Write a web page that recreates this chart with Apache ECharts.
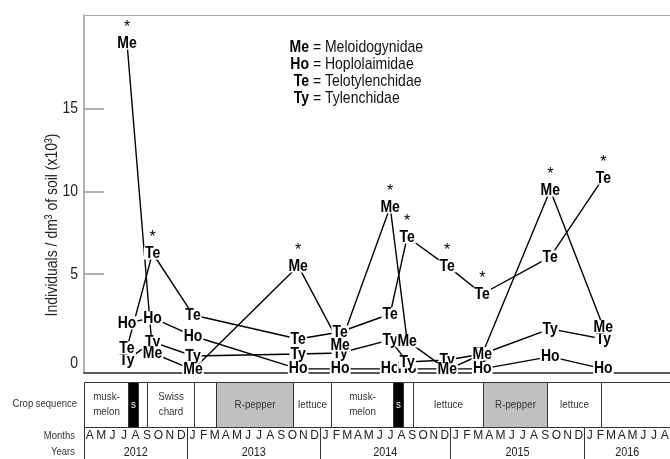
<!DOCTYPE html>
<html>
<head>
<meta charset="utf-8">
<script src="https://cdn.jsdelivr.net/npm/echarts@6.0.0/dist/echarts.min.js"></script>
<style>html,body{margin:0;padding:0;background:#fff;}#chart{width:670px;height:459px;}</style>
</head>
<body>
<div id="chart"></div>
<script>
// ---------------- data ----------------
// x = months since 1 April 2012
const sampleMonths = [3.89, 6.2, 9.86, 19.37, 23.17, 27.69, 29.23, 32.85, 36.02, 42.17, 46.97];
const familyCodes = ['Me', 'Ho', 'Te', 'Ty'];
const familyNames = ['Meloidogynidae', 'Hoplolaimidae', 'Telotylenchidae', 'Tylenchidae'];
const meValues = [18.98, 0.22, -0.80, 5.49, 0.71, 9.06, 0.95, -0.80, 0.16, 10.08, 1.80];
const hoValues = [2.04, 2.34, 1.25, -0.74, -0.74, -0.74, -0.74, null, -0.74, 0.0, -0.74];
const teValues = [0.53, 6.27, 2.52, 1.07, 1.49, 2.58, 7.24, 5.49, 3.79, 6.03, 10.81];
const tyValues = [-0.20, 0.89, 0.04, 0.16, 0.22, 1.01, -0.32, -0.20, 0.16, 1.68, 1.07];
const meSignificant = [1, 0, 0, 1, 0, 1, 0, 0, 0, 1, 0];
const teSignificant = [0, 1, 0, 0, 0, 0, 1, 1, 1, 0, 1];
const yTickValues = [0, 5, 10, 15];
const cropNames = ['musk-\nmelon', 's', '', 'Swiss\nchard', '', 'R-pepper', 'lettuce', 'musk-\nmelon', 's', '', 'lettuce', 'R-pepper', 'lettuce', ''];
const cropStart = [0, 3.99, 4.91, 5.7, 9.95, 11.95, 18.9, 22.35, 27.92, 28.82, 29.73, 36.1, 41.9, 46.8];
const cropEnd   = [3.99, 4.91, 5.7, 9.95, 11.95, 18.9, 22.35, 27.92, 28.82, 29.73, 36.1, 41.9, 46.8, 53];
const yearLabels = ['2012', '2013', '2014', '2015', '2016'];
const yearStart = [0, 9.32, 21.35, 33.12, 45.25];
const yearEnd   = [9.32, 21.35, 33.12, 45.25, 53];
const monthLetters = ['AMJJASOND', 'JFMAMJJASOND', 'JFMAMJJASOND', 'JFMAMJJASOND', 'JFMAMJJA'];

const FF = "'Liberation Sans', Arial, sans-serif";
const SY = 1.2; // vertical stretch of the reference lettering

const valuesByCode = { Me: meValues, Ho: hoValues, Te: teValues, Ty: tyValues };
const drawOrder = ['Ho', 'Ty', 'Te', 'Me'];

const series = [];
drawOrder.forEach(code => {
  const vals = valuesByCode[code];
  series.push({
    type: 'line', xAxisIndex: 0, yAxisIndex: 0, z: 2, silent: true,
    symbol: 'none', connectNulls: true,
    lineStyle: { color: '#000', width: 1.4 },
    data: sampleMonths.map((m, i) => [m, vals[i]])
  });
});
drawOrder.forEach(code => {
  const vals = valuesByCode[code];
  series.push({
    type: 'custom', xAxisIndex: 0, yAxisIndex: 0, z: 3, silent: true,
    data: sampleMonths.map((m, i) => [m, vals[i]]).filter(d => d[1] !== null),
    encode: { x: 0, y: 1 },
    renderItem: function (params, api) {
      const p = api.coord([api.value(0), api.value(1)]);
      return { type: 'text', x: p[0], y: p[1], scaleY: SY,
        style: { text: code, x: 0, y: 0, align: 'center', verticalAlign: 'middle',
          fill: '#000', fontWeight: 'bold', fontSize: 14, fontFamily: FF,
          backgroundColor: '#fff', padding: [0, 1], lineHeight: 11 } };
    }
  });
});
const starData = [];
sampleMonths.forEach((m, i) => {
  if (meSignificant[i]) starData.push([m, meValues[i]]);
  if (teSignificant[i]) starData.push([m, teValues[i]]);
});
series.push({
  type: 'custom', xAxisIndex: 0, yAxisIndex: 0, z: 4, silent: true,
  data: starData, encode: { x: 0, y: 1 },
  renderItem: function (params, api) {
    const p = api.coord([api.value(0), api.value(1)]);
    return { type: 'text', x: p[0], y: p[1] - 15,
      style: { text: '*', x: 0, y: 0, align: 'center', verticalAlign: 'middle',
        fill: '#000', fontSize: 16, fontFamily: FF } };
  }
});
// y tick labels
series.push({
  type: 'custom', xAxisIndex: 0, yAxisIndex: 0, z: 4, silent: true,
  data: yTickValues.map(v => [0, v]), encode: { x: 0, y: 1 },
  renderItem: function (params, api) {
    const v = api.value(1);
    const p = api.coord([0, v]);
    return { type: 'text', x: params.coordSys.x - 6, y: p[1] + (v === 0 ? 7 : 0), scaleY: SY,
      style: { text: String(v), x: 0, y: 0, align: 'right', verticalAlign: 'middle',
        fill: '#222', fontSize: 14, fontFamily: FF } };
  }
});

// crop sequence row
series.push({
  type: 'custom', xAxisIndex: 2, yAxisIndex: 1, silent: true,
  data: cropNames.map((n, i) => [cropStart[i], cropEnd[i], i]),
  encode: { x: [0, 1], y: 2 },
  renderItem: function (params, api) {
    const i = api.value(2);
    const x1 = Math.round(api.coord([api.value(0), 0])[0]) + 0.5;
    const x2 = Math.round(api.coord([api.value(1), 0])[0]) + 0.5;
    const cs = params.coordSys;
    const name = cropNames[i];
    const fill = name === 's' ? '#000' : (name === 'R-pepper' ? '#c0c0c0' : '#fff');
    return { type: 'group', children: [
      { type: 'rect', shape: { x: x1, y: cs.y + 0.5, width: x2 - x1, height: 45 },
        style: { fill: fill, stroke: '#333', lineWidth: 1 } },
      { type: 'text', x: (x1 + x2) / 2, y: cs.y + 22.5, scaleY: 1.15,
        style: { text: name, x: 0, y: 0,
        align: 'center', verticalAlign: 'middle', fill: name === 's' ? '#fff' : '#333',
        fontSize: 9.8, fontFamily: FF, lineHeight: 12.5 } }
    ]};
  }
});
// month letters
const monthData = [];
monthLetters.forEach((s, y) => {
  const w = (yearEnd[y] - yearStart[y]) / s.length;
  for (let j = 0; j < s.length; j++) monthData.push([yearStart[y] + (j + 0.5) * w, 0, y, j]);
});
series.push({
  type: 'custom', xAxisIndex: 2, yAxisIndex: 1, silent: true,
  data: monthData, encode: { x: 0, y: 1 },
  renderItem: function (params, api) {
    const x = api.coord([api.value(0), 0])[0];
    const cs = params.coordSys;
    return { type: 'text', x: x, y: cs.y + 54, scaleY: 1.05,
      style: { text: monthLetters[api.value(2)][api.value(3)], x: 0, y: 0,
      align: 'center', verticalAlign: 'middle', fill: '#222', fontSize: 12, fontFamily: FF } };
  }
});
// years + dividers
series.push({
  type: 'custom', xAxisIndex: 2, yAxisIndex: 1, silent: true,
  data: yearLabels.map((l, i) => [yearStart[i], yearEnd[i], i]), encode: { x: [0, 1], y: 2 },
  renderItem: function (params, api) {
    const x1 = Math.round(api.coord([api.value(0), 0])[0]) + 0.5;
    const x2 = api.coord([api.value(1), 0])[0];
    const cs = params.coordSys;
    return { type: 'group', children: [
      { type: 'line', shape: { x1: x1, y1: cs.y + 45, x2: x1, y2: cs.y + 80 }, style: { stroke: '#333', lineWidth: 1 } },
      { type: 'text', x: (x1 + x2) / 2, y: cs.y + 70, scaleY: 1.25,
        style: { text: yearLabels[api.value(2)], x: 0, y: 0,
        align: 'center', verticalAlign: 'middle', fill: '#222', fontSize: 10.8, fontFamily: FF } }
    ]};
  }
});

const graphic = [
  { type: 'text', x: 52, y: 225, rotation: Math.PI / 2, scaleY: SY, silent: true,
    style: { text: 'Individuals / dm³ of soil (x10³)', align: 'center', verticalAlign: 'middle',
      fill: '#222', fontSize: 14, fontFamily: FF } },
  { type: 'text', x: 77, y: 404, scaleY: 1.15, silent: true, style: { text: 'Crop sequence', align: 'right', verticalAlign: 'middle', fill: '#333', fontSize: 9.5, fontFamily: FF } },
  { type: 'text', x: 75, y: 436, scaleY: 1.15, silent: true, style: { text: 'Months', align: 'right', verticalAlign: 'middle', fill: '#333', fontSize: 9.5, fontFamily: FF } },
  { type: 'text', x: 75, y: 452, scaleY: 1.15, silent: true, style: { text: 'Years', align: 'right', verticalAlign: 'middle', fill: '#333', fontSize: 9.5, fontFamily: FF } }
];
familyCodes.forEach((c, i) => {
  const y = 47 + 17 * i;
  graphic.push({ type: 'text', x: 309, y: y, scaleY: SY, silent: true, style: { text: c, align: 'right', verticalAlign: 'middle', fill: '#000', fontWeight: 'bold', fontSize: 14, fontFamily: FF } });
  graphic.push({ type: 'text', x: 309, y: y, scaleY: SY, silent: true, style: { text: ' = ' + familyNames[i], align: 'left', verticalAlign: 'middle', fill: '#111', fontSize: 14, fontFamily: FF } });
});

const chart = echarts.init(document.getElementById('chart'), null, { renderer: 'canvas' });
chart.setOption({
  animation: false,
  backgroundColor: '#fff',
  grid: [
    { left: 84, top: 15, width: 586, height: 358 },
    { left: 84, top: 382, width: 586, height: 77 }
  ],
  xAxis: [
    { type: 'value', gridIndex: 0, min: 0, max: 53, position: 'bottom',
      axisLine: { show: true, onZero: false, lineStyle: { color: '#222', width: 1.5 } },
      axisTick: { show: false }, axisLabel: { show: false }, splitLine: { show: false } },
    { type: 'value', gridIndex: 0, min: 0, max: 53, position: 'top',
      axisLine: { show: true, onZero: false, lineStyle: { color: '#aaa', width: 1 } },
      axisTick: { show: false }, axisLabel: { show: false }, splitLine: { show: false } },
    { type: 'value', gridIndex: 1, min: 0, max: 53, show: false, splitLine: { show: false } }
  ],
  yAxis: [
    { type: 'value', gridIndex: 0, min: -0.99, max: 20.67,
      axisLine: { show: true, onZero: false, lineStyle: { color: '#999', width: 1.5 } },
      axisTick: { show: true, inside: true, length: 20, customValues: [5, 10, 15], lineStyle: { color: '#999', width: 1.5 } },
      axisLabel: { show: false },
      splitLine: { show: false } },
    { type: 'value', gridIndex: 1, min: 0, max: 1, show: false, splitLine: { show: false } }
  ],
  graphic: graphic,
  series: series
});
</script>
</body>
</html>
